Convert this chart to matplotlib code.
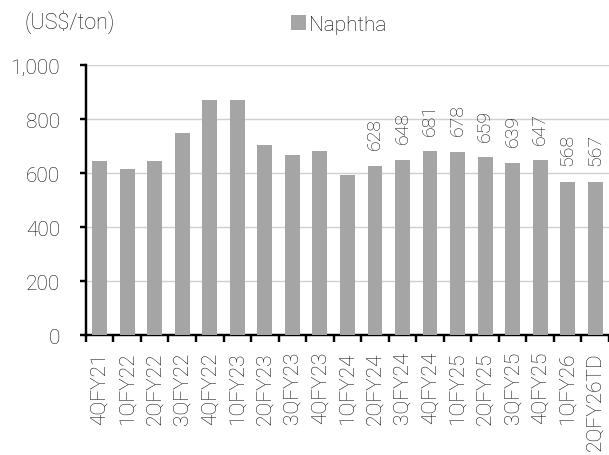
import matplotlib.pyplot as plt
import numpy as np

# quarterly naphtha price
quarters = ["4QFY21", "1QFY22", "2QFY22", "3QFY22", "4QFY22", "1QFY23", "2QFY23",
            "3QFY23", "4QFY23", "1QFY24", "2QFY24", "3QFY24", "4QFY24", "1QFY25",
            "2QFY25", "3QFY25", "4QFY25", "1QFY26", "2QFY26TD"]
naphtha = [645, 615, 645, 750, 870, 870, 705, 668, 683, 593,
           628, 648, 681, 678, 659, 639, 647, 568, 567]
first_labelled = 10  # labels start at 2QFY24

plt.rcParams['font.family'] = ['Roboto', 'DejaVu Sans']
plt.rcParams['font.weight'] = 'light'
txt = "#111111"

fig = plt.figure(figsize=(6.09, 4.56), dpi=100)
ax = fig.add_axes([0.141, 0.263, 0.859, 0.592])

x = np.arange(len(quarters))
ax.bar(x, naphtha, width=0.54, color="#a5a5a5", zorder=3, label="Naphtha")

for i in range(first_labelled, len(quarters)):
    ax.annotate(f"{naphtha[i]}", (x[i], naphtha[i]), xytext=(0, 12), textcoords="offset points",
                rotation=90, ha="center", va="bottom", fontsize=14, color=txt)

ax.set_xlim(-0.5, len(quarters) - 0.5)
ax.set_ylim(0, 1000)
ax.set_yticks(range(0, 1001, 200))
ax.set_yticklabels([f"{v:,}" for v in range(0, 1001, 200)], fontsize=15, color=txt)
ax.set_xticks(np.arange(-0.5, len(quarters) - 0.4, 1))
ax.set_xticklabels([])
ax.set_xticks(x, minor=True)
ax.set_xticklabels(quarters, minor=True, rotation=90, fontsize=15, color=txt)
ax.tick_params(axis="x", which="minor", length=0, pad=11.5)
ax.tick_params(axis="x", which="major", length=5, width=1.75, direction="out")
ax.tick_params(axis="y", length=4.3, width=1.75, direction="out", pad=14.4)

ax.grid(axis="y", color="#d0d0d0", linewidth=1, zorder=0)
for s in ["top", "right"]:
    ax.spines[s].set_visible(False)
for s in ["left", "bottom"]:
    ax.spines[s].set_linewidth(1.75)
    ax.spines[s].set_color("black")

fig.text(0.041, 0.952, "(US$/ton)", fontsize=15.5, color=txt, va="center")
fig.legend(loc="center left", bbox_to_anchor=(291 / 609, 1 - 25.5 / 456), frameon=False,
           fontsize=15, borderpad=0, borderaxespad=0,
           handlelength=0.72, handleheight=0.72, handletextpad=0.15)

fig.savefig("out.png", dpi=100)
